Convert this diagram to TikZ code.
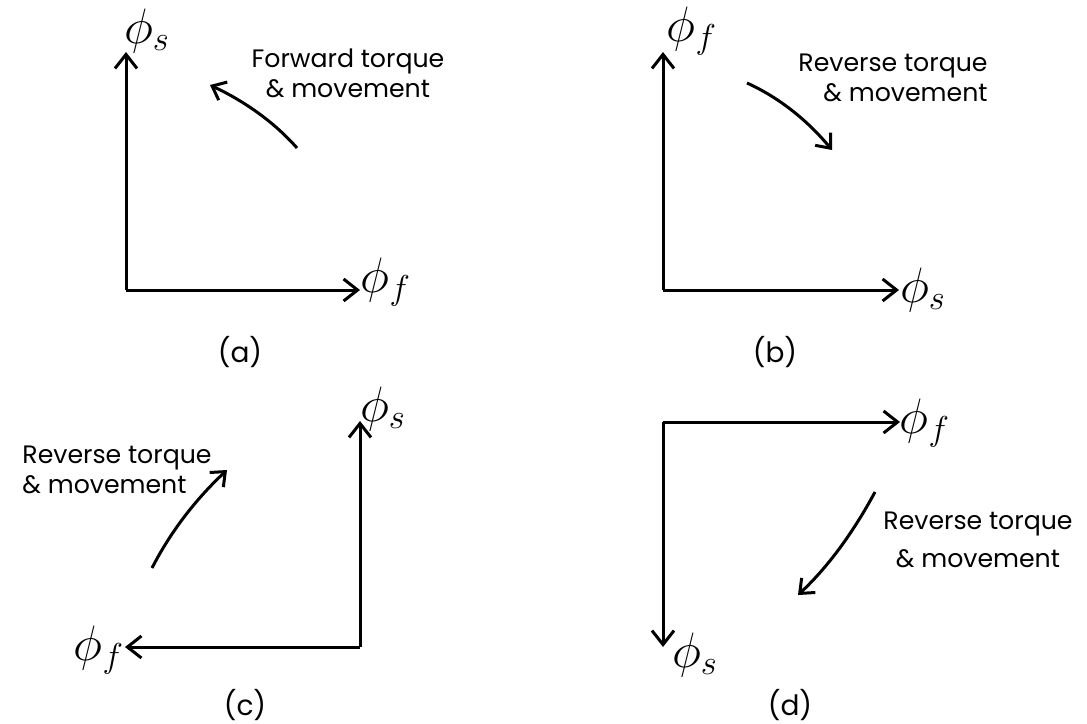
\documentclass[tikz,border=0pt]{standalone}
\usepackage{fontspec}
\setmainfont{Poppins}
\usetikzlibrary{arrows.meta,positioning}
\begin{document}
\begin{tikzpicture}[x=0.5pt, y=-0.5pt,
  ax/.style={-{Straight Barb[length=7pt,width=11pt]}, line width=1.5pt},
  mv/.style={-{Straight Barb[length=6pt,width=10pt]}, line width=1.5pt},
  phi/.style={font=\fontsize{26}{28}\selectfont, inner sep=0pt},
  txt/.style={font=\fontsize{12.6}{15}\selectfont, align=center, inner sep=0pt},
  capt/.style={font=\fontsize{14}{16}\selectfont, inner sep=0pt}]
\useasboundingbox (0,0) rectangle (1087,723);
% axis corners and tips
\coordinate (oa) at (126,290); \coordinate (ya) at (126,52);  \coordinate (xa) at (360,290);
\coordinate (ob) at (663,290); \coordinate (yb) at (663,52);  \coordinate (xb) at (899,290);
\coordinate (oc) at (360,647); \coordinate (yc) at (360,421); \coordinate (xc) at (125,647);
\coordinate (od) at (663,422); \coordinate (yd) at (663,647); \coordinate (xd) at (900,422);
% flux labels
\node[phi] (sa) at (147,31)  {$\phi_s$};
\node[phi] (fa) at (386,282) {$\phi_f$};
\node[phi] (fb) at (692,31)  {$\phi_f$};
\node[phi] (sb) at (923,290) {$\phi_s$};
\node[phi] (sc) at (383,409) {$\phi_s$};
\node[phi] (fc) at (99,650)  {$\phi_f$};
\node[phi] (fd) at (925,423) {$\phi_f$};
\node[phi] (sd) at (695,655) {$\phi_s$};
\foreach \o/\e in {oa/ya,oa/xa,ob/yb,ob/xb,oc/yc,oc/xc,od/yd,od/xd}
  \draw[ax] (\o) -- (\e);
% torque arrows
\coordinate (ma0) at (297,148); \coordinate (ma1) at (210,85);
\coordinate (mb0) at (747,83);  \coordinate (mb1) at (832,150);
\coordinate (mc0) at (152,568); \coordinate (mc1) at (227,470);
\coordinate (md0) at (875,492); \coordinate (md1) at (798,595);
\draw[mv] (ma0) .. controls (275,123) and (246,102) .. (ma1);
\draw[mv] (mb0) .. controls (780,98) and (808,121) .. (mb1);
\draw[mv] (mc0) .. controls (171,531) and (196,499) .. (mc1);
\draw[mv] (md0) .. controls (854,531) and (829,566) .. (md1);
\node[txt] (ta) at (348,73)  {Forward torque\\\& movement};
\node[txt, align=right] (tb) at (893,78) {Reverse torque\\\& movement};
\node[txt, align=left] (tc) at (117,470) {Reverse torque\\\& movement};
\node[txt] (td) at (978,540) {Reverse torque\\[4pt]\& movement};
% captions
\node[capt] (ca) at (240,352) {(a)};
\node[capt] (cb) at (775,352) {(b)};
\node[capt] (cc) at (245,705) {(c)};
\node[capt] (cd) at (790,705) {(d)};
\end{tikzpicture}
\end{document}
